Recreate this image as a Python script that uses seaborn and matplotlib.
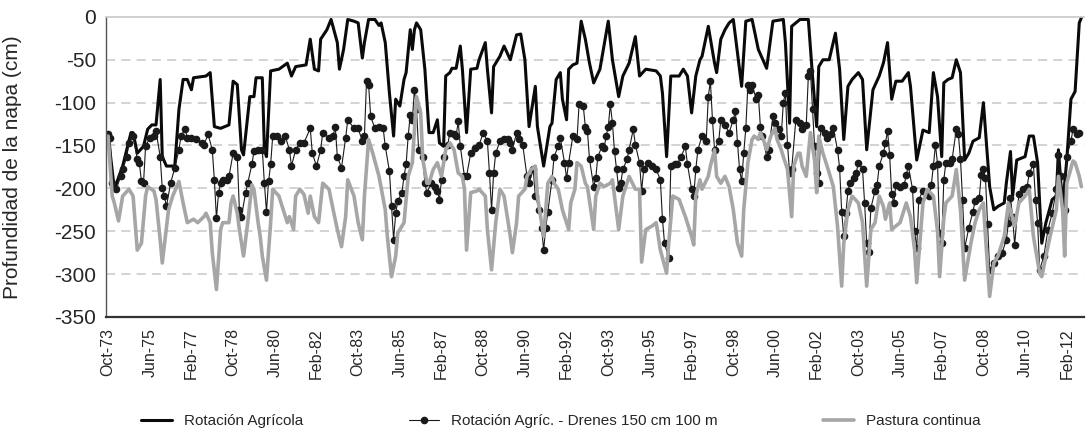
import numpy as np
import pandas as pd
import matplotlib
matplotlib.use("Agg")
from matplotlib import pyplot as plt
from matplotlib import font_manager
import seaborn as sns

# Months counted from Oct-73, depth of the water table in cm
AGR_MONTHS = [0, 3, 7, 11, 12, 14, 17, 19, 21, 23, 25, 26, 28, 32, 34, 36, 38, 40, 41, 47, 49, 51, 54, 58,
              60, 62, 64, 65, 68, 70, 71, 74, 75, 76, 78, 82, 86, 88, 90, 95, 97, 99, 101, 102, 105, 107,
              110, 111, 113, 115, 118, 120, 122, 123, 125, 128, 130, 131, 133, 135, 137, 138, 140, 142,
              143, 145, 146, 147, 148, 150, 152, 154, 156, 158, 159, 161, 162, 164, 165, 167, 169, 170,
              172, 174, 177, 178, 181, 182, 184, 185, 188, 190, 193, 196, 198, 200, 202, 205, 206, 209,
              212, 213, 215, 217, 218, 220, 221, 223, 225, 227, 229, 231, 233, 236, 240, 242, 245, 247,
              250, 253, 255, 258, 263, 265, 266, 268, 270, 274, 276, 278, 280, 282, 284, 285, 287, 288,
              291, 292, 294, 296, 298, 300, 304, 306, 309, 312, 316, 319, 324, 325, 327, 328, 332, 336,
              338, 340, 341, 343, 346, 349, 351, 353, 355, 357, 360, 362, 364, 367, 370, 372, 374, 376,
              378, 381, 384, 385, 388, 391, 394, 396, 398, 400, 401, 403, 405, 407, 409, 411, 413, 415,
              418, 420, 423, 425, 427, 430, 431, 433, 434, 436, 440, 442, 444, 446, 448, 450, 453, 455,
              456, 458, 460, 462, 464, 466, 467]
AGR_DEPTH = [-137, -201, -174, -135, -135, -159, -151, -131, -126, -126, -73, -163, -174, -174, -108, -73,
             -73, -85, -71, -69, -65, -128, -130, -126, -75, -79, -155, -161, -93, -93, -71, -71, -155,
             -163, -63, -61, -54, -69, -58, -56, -26, -61, -63, -26, -15, -3, -30, -61, -38, -3, -5, -7,
             -48, -30, -3, -3, -10, -7, -30, -89, -139, -96, -104, -73, -65, -15, -38, -15, -7, -15, -61,
             -135, -135, -120, -147, -151, -69, -65, -60, -60, -34, -61, -135, -61, -60, -50, -30, -61,
             -112, -58, -46, -34, -50, -21, -20, -50, -128, -81, -128, -174, -128, -124, -73, -65, -96,
             -120, -61, -56, -54, -5, -26, -54, -77, -61, -5, -50, -93, -69, -54, -23, -69, -61, -63, -69,
             -89, -163, -69, -69, -61, -69, -112, -69, -50, -46, -23, -11, -54, -65, -26, -15, -7, -3,
             -81, -5, -3, -38, -60, -5, -3, -30, -124, -11, -3, -3, -69, -128, -58, -50, -50, -19, -61,
             -143, -81, -73, -65, -73, -155, -85, -69, -54, -30, -96, -75, -75, -65, -81, -167, -132,
             -135, -65, -93, -163, -77, -73, -71, -50, -65, -167, -159, -145, -141, -100, -198, -225,
             -221, -217, -194, -157, -209, -167, -163, -139, -139, -170, -264, -240, -213, -209, -155,
             -221, -167, -96, -87, -7, -1]

DRE_MONTHS = [0, 1, 2, 4, 6, 7, 9, 10, 12, 14, 15, 16, 17, 18, 20, 22, 23, 25, 26, 27, 28, 30, 32, 34, 35,
              37, 38, 40, 42, 45, 46, 48, 50, 51, 52, 53, 54, 55, 57, 58, 60, 62, 63, 64, 66, 67, 69, 70,
              72, 74, 75, 76, 77, 78, 79, 81, 83, 85, 87, 88, 90, 92, 94, 97, 98, 100, 102, 103, 106, 108,
              109, 110, 112, 114, 115, 118, 120, 122, 123, 124, 125, 126, 128, 130, 132, 133, 135, 136,
              137, 138, 139, 141, 142, 143, 144, 145, 146, 147, 148, 149, 151, 152, 153, 155, 157, 158,
              159, 160, 161, 163, 164, 166, 167, 168, 169, 171, 172, 174, 176, 178, 180, 182, 183, 184,
              185, 186, 188, 190, 192, 193, 194, 196, 197, 199, 201, 202, 204, 205, 207, 208, 209, 210,
              211, 213, 214, 216, 217, 219, 220, 221, 223, 225, 226, 228, 229, 230, 231, 233, 234, 235,
              237, 238, 239, 240, 241, 242, 243, 244, 245, 246, 247, 249, 250, 252, 253, 255, 256, 257,
              259, 261, 263, 265, 266, 267, 269, 270, 272, 273, 275, 277, 278, 280, 281, 282, 283, 285,
              287, 288, 289, 290, 291, 293, 294, 296, 298, 300, 301, 302, 303, 304, 305, 306, 307, 308,
              309, 311, 312, 313, 314, 316, 317, 319, 320, 322, 323, 324, 325, 326, 327, 328, 330, 332,
              333, 335, 336, 337, 338, 339, 340, 341, 342, 344, 345, 347, 348, 350, 351, 352, 353, 354,
              355, 356, 358, 359, 360, 362, 363, 364, 365, 366, 368, 369, 370, 372, 373, 374, 375, 376,
              377, 378, 380, 382, 383, 384, 386, 387, 388, 389, 391, 394, 395, 396, 397, 398, 399, 400,
              401, 402, 404, 405, 407, 408, 409, 410, 411, 413, 415, 416, 418, 419, 420, 421, 422, 423,
              425, 427, 429, 431, 432, 433, 434, 435, 437, 439, 441, 442, 444, 445, 446, 447, 449, 451,
              453, 455, 456, 457, 459, 460, 462, 463, 465, 466]
DRE_DEPTH = [-137, -141, -194, -201, -186, -178, -163, -147, -139, -166, -170, -192, -194, -151, -141,
             -139, -133, -163, -200, -209, -221, -194, -176, -155, -139, -131, -141, -141, -143, -147,
             -149, -137, -155, -190, -235, -205, -194, -190, -190, -186, -159, -163, -225, -233, -205,
             -194, -172, -157, -155, -155, -194, -227, -192, -172, -139, -139, -145, -139, -155, -174,
             -155, -147, -147, -130, -159, -174, -155, -135, -141, -139, -128, -163, -176, -141, -120,
             -130, -130, -145, -139, -75, -79, -116, -130, -128, -130, -151, -180, -221, -260, -229,
             -215, -205, -186, -172, -139, -114, -120, -85, -108, -155, -163, -194, -205, -194, -198,
             -203, -213, -190, -163, -149, -135, -137, -139, -122, -151, -186, -186, -159, -153, -150,
             -135, -145, -182, -225, -182, -159, -145, -143, -143, -147, -155, -135, -143, -150, -186,
             -194, -178, -209, -225, -246, -272, -246, -227, -190, -163, -151, -141, -170, -188, -170,
             -139, -143, -102, -104, -128, -133, -166, -198, -188, -163, -151, -153, -139, -128, -102,
             -124, -157, -178, -200, -194, -178, -166, -155, -131, -149, -170, -203, -178, -170, -174,
             -178, -190, -236, -264, -281, -174, -172, -172, -163, -151, -172, -201, -209, -178, -155,
             -139, -145, -93, -75, -120, -155, -145, -120, -126, -135, -120, -110, -147, -178, -192,
             -159, -130, -79, -85, -79, -96, -91, -128, -139, -163, -155, -116, -124, -131, -139, -100,
             -89, -149, -182, -178, -120, -124, -131, -126, -69, -63, -108, -151, -182, -194, -130, -135,
             -141, -137, -130, -155, -176, -227, -256, -229, -203, -194, -188, -182, -170, -178, -217,
             -264, -274, -223, -203, -196, -174, -159, -147, -133, -161, -207, -217, -196, -198, -196,
             -184, -174, -201, -250, -270, -213, -203, -209, -196, -174, -149, -172, -252, -264, -190,
             -170, -170, -166, -131, -137, -166, -213, -270, -246, -227, -215, -211, -184, -178, -188,
             -242, -295, -287, -279, -275, -260, -240, -211, -233, -266, -207, -201, -198, -182, -172,
             -213, -240, -295, -279, -248, -229, -201, -161, -186, -225, -163, -145, -131, -137, -135]

PAS_MONTHS = [0, 2, 3, 5, 7, 10, 12, 14, 16, 18, 19, 22, 23, 25, 26, 29, 31, 34, 36, 38, 41, 43, 46, 47,
              49, 50, 52, 54, 55, 58, 59, 60, 62, 63, 65, 67, 69, 70, 72, 73, 74, 76, 78, 79, 82, 83, 86,
              87, 89, 90, 92, 94, 96, 97, 99, 101, 103, 106, 108, 110, 112, 114, 115, 118, 120, 122, 123,
              125, 127, 130, 133, 134, 136, 138, 139, 142, 144, 146, 148, 150, 151, 153, 154, 156, 158,
              160, 162, 164, 166, 168, 170, 171, 172, 174, 177, 178, 181, 182, 184, 186, 188, 190, 193,
              194, 196, 197, 200, 201, 203, 205, 206, 208, 209, 211, 213, 214, 216, 218, 221, 222, 224,
              225, 227, 229, 230, 233, 234, 236, 238, 241, 242, 245, 247, 250, 253, 255, 256, 258, 261,
              263, 265, 268, 269, 271, 274, 277, 280, 281, 282, 284, 285, 288, 289, 291, 292, 294, 296,
              298, 300, 302, 304, 305, 307, 309, 310, 312, 313, 315, 316, 318, 320, 321, 323, 324, 326,
              328, 329, 331, 332, 333, 335, 337, 339, 340, 341, 343, 345, 348, 350, 352, 353, 355, 357,
              360, 362, 364, 366, 368, 370, 372, 373, 375, 376, 378, 380, 383, 385, 387, 388, 391, 393,
              396, 398, 399, 401, 402, 405, 407, 409, 411, 414, 416, 418, 420, 421, 423, 425, 427, 430,
              432, 435, 437, 440, 442, 444, 447, 448, 450, 452, 455, 456, 458, 459, 460, 463, 464, 466,
              467]
PAS_DEPTH = [-139, -209, -217, -238, -209, -201, -209, -272, -264, -209, -198, -203, -213, -260, -287,
             -225, -209, -192, -217, -240, -236, -240, -233, -229, -240, -275, -318, -248, -240, -240,
             -217, -209, -229, -248, -279, -240, -196, -201, -240, -256, -279, -307, -240, -201, -209,
             -217, -240, -233, -248, -209, -201, -207, -229, -209, -233, -240, -194, -201, -225, -248,
             -268, -233, -190, -209, -240, -260, -209, -143, -159, -186, -225, -256, -303, -279, -252,
             -240, -186, -170, -93, -112, -166, -194, -194, -178, -170, -186, -155, -147, -155, -182,
             -186, -201, -272, -205, -203, -201, -209, -248, -295, -240, -201, -209, -256, -275, -240,
             -209, -201, -186, -178, -174, -209, -240, -256, -194, -186, -194, -201, -225, -248, -217,
             -201, -170, -174, -194, -198, -248, -209, -194, -198, -194, -190, -248, -209, -186, -201,
             -201, -286, -248, -244, -240, -272, -299, -264, -209, -213, -233, -256, -266, -209, -190,
             -201, -186, -174, -155, -186, -194, -186, -198, -225, -264, -279, -225, -170, -143, -139,
             -143, -135, -147, -155, -139, -130, -143, -155, -163, -178, -233, -174, -159, -159, -174,
             -186, -135, -167, -205, -139, -159, -174, -198, -244, -314, -264, -225, -209, -217, -240,
             -314, -248, -240, -209, -221, -236, -217, -248, -244, -240, -217, -233, -272, -310, -217,
             -201, -209, -250, -303, -235, -217, -209, -178, -225, -307, -264, -240, -225, -217, -256,
             -326, -287, -279, -256, -217, -244, -217, -209, -201, -256, -299, -303, -279, -256, -225,
             -186, -225, -279, -194, -168, -170, -186, -198]

SERIES_NAMES = ["Rotación Agrícola", "Rotación Agríc. - Drenes 150 cm 100 m", "Pastura continua"]
TICK_LABELS = ["Oct-73", "Jun-75", "Feb-77", "Oct-78", "Jun-80", "Feb-82", "Oct-83", "Jun-85",
               "Feb-87", "Oct-88", "Jun-90", "Feb-92", "Oct-93", "Jun-95", "Feb-97", "Oct-98",
               "Jun-00", "Feb-02", "Oct-03", "Jun-05", "Feb-07", "Oct-08", "Jun-10", "Feb-12"]
Y_TICKS = [0, -50, -100, -150, -200, -250, -300, -350]


def main():
    sns.set_style("white")
    plt.rcParams["font.family"] = ["Liberation Sans", "DejaVu Sans"]

    agr = pd.DataFrame({"mes": AGR_MONTHS, "prof": AGR_DEPTH})
    dre = pd.DataFrame({"mes": DRE_MONTHS, "prof": DRE_DEPTH})
    pas = pd.DataFrame({"mes": PAS_MONTHS, "prof": PAS_DEPTH})

    fig = plt.figure(figsize=(10.86, 4.33), dpi=100)
    ax = fig.add_axes([0.0976, 0.268, 0.901, 0.693])

    # gridlines first so the series sit on top
    for y in Y_TICKS[1:-1]:
        ax.axhline(y, color="#c8c8c8", lw=1.1, dashes=(6, 4), zorder=0)

    # Excel order: first series at the bottom, pasture on top
    sns.lineplot(data=agr, x="mes", y="prof", ax=ax, color="#0a0a0a", linewidth=2.2,
                 estimator=None, sort=False, label=SERIES_NAMES[0])
    sns.lineplot(data=dre, x="mes", y="prof", ax=ax, color="#1a1a1a", linewidth=0.8,
                 marker="o", markersize=5.5, markeredgewidth=0, estimator=None, sort=False,
                 label=SERIES_NAMES[1])
    sns.lineplot(data=pas, x="mes", y="prof", ax=ax, color="#a6a6a6", linewidth=2.6,
                 estimator=None, sort=False, label=SERIES_NAMES[2])

    ax.set_xlim(-1, 468.5)
    ax.set_ylim(-350, 0)
    ax.set_yticks(Y_TICKS)
    ax.set_yticklabels([str(v) for v in Y_TICKS], fontsize=15)
    ax.set_xticks(range(0, 20 * len(TICK_LABELS), 20))
    ax.set_xticklabels(TICK_LABELS, rotation=90, fontsize=11.5)
    ax.tick_params(axis="both", length=0)
    ax.tick_params(axis="x", pad=8)
    ax.tick_params(axis="y", pad=7)

    ax.set_xlabel("")
    ax.set_ylabel("Profundidad de la napa (cm)", fontsize=15)
    ax.yaxis.set_label_coords(-0.086, 0.5)

    ax.spines["top"].set_color("#c8c8c8")
    ax.spines["top"].set_linewidth(1.2)
    ax.spines["right"].set_visible(False)
    ax.spines["left"].set_color("#555555")
    ax.spines["left"].set_linewidth(1.0)
    ax.spines["bottom"].set_color("#333333")
    ax.spines["bottom"].set_linewidth(1.6)

    # legend below the axes, narrow font like the original if we have it
    handles, labels = ax.get_legend_handles_labels()
    ax.get_legend().remove()
    names = {f.name for f in font_manager.fontManager.ttflist}
    if "Liberation Sans Narrow" in names:
        prop = {"family": "Liberation Sans Narrow", "size": 12}
    else:
        prop = {"family": "Liberation Sans", "size": 11}
    fig.legend(handles, labels, loc="center", bbox_to_anchor=(0.5166, 0.028), ncol=3,
               frameon=False, columnspacing=6.9, handlelength=2.0, handletextpad=0.8,
               numpoints=1, prop=prop)

    fig.savefig("out.png", dpi=100)
    plt.close()


if __name__ == "__main__":
    main()
